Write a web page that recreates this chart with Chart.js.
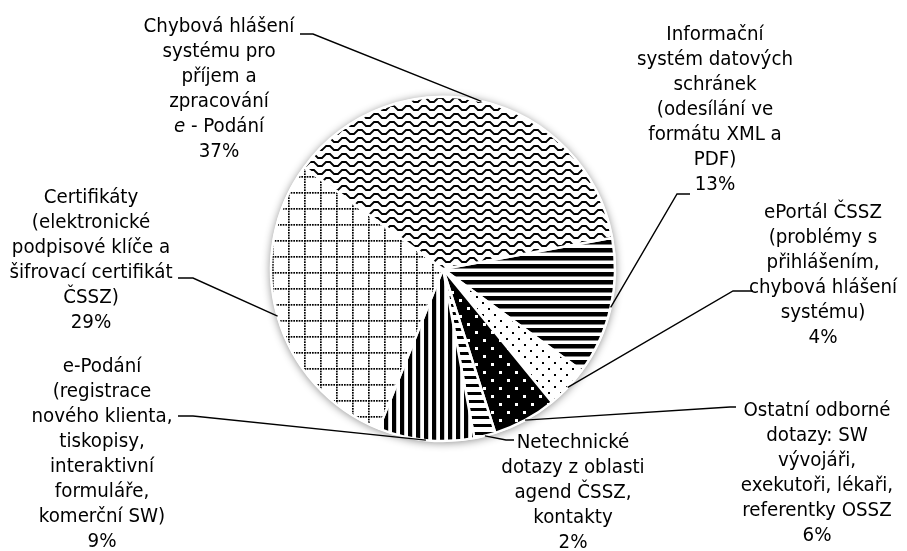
<!DOCTYPE html>
<html>
<head>
<meta charset="utf-8">
<script src="https://cdn.jsdelivr.net/npm/chart.js@4"></script>
<style>
  html, body { margin: 0; padding: 0; background: #fff; }
  canvas { display: block; }
</style>
</head>
<body>
<canvas id="c" width="907" height="551"></canvas>
<script>
// ---- data ----
const categories = [
  'Informační systém datových schránek',
  'ePortál ČSSZ',
  'Ostatní odborné dotazy',
  'Netechnické dotazy',
  'e-Podání',
  'Certifikáty',
  'Chybová hlášení systému'
];
const values = [13, 4, 6, 2, 9, 29, 37];
const labelLines = [
  ['Informační', 'systém datových', 'schránek', '(odesílání ve', 'formátu XML a', 'PDF)'],
  ['ePortál ČSSZ', '(problémy s', 'přihlášením,', 'chybová hlášení', 'systému)'],
  ['Ostatní odborné', 'dotazy: SW', 'vývojáři,', 'exekutoři, lékaři,', 'referentky OSSZ'],
  ['Netechnické', 'dotazy z oblasti', 'agend ČSSZ,', 'kontakty'],
  ['e-Podání', '(registrace', 'nového klienta,', 'tiskopisy,', 'interaktivní', 'formuláře,', 'komerční SW)'],
  ['Certifikáty', '(elektronické', 'podpisové klíče a', 'šifrovací certifikát', 'ČSSZ)'],
  ['Chybová hlášení', 'systému pro', 'příjem a', 'zpracování', '_e_ - Podání']
];

// ---- patterns ----
function tile(w, h, bg, draw) {
  const c = document.createElement('canvas');
  c.width = w; c.height = h;
  const g = c.getContext('2d');
  g.fillStyle = bg; g.fillRect(0, 0, w, h);
  g.fillStyle = '#000'; g.strokeStyle = '#000';
  draw(g);
  return document.getElementById('c').getContext('2d').createPattern(c, 'repeat');
}
const patHStripes = tile(8, 8, '#fff', g => g.fillRect(0, 0, 8, 4.5));
const patDots = tile(12, 12, '#fff', g => { g.fillRect(2, 2, 2, 2); g.fillRect(8, 8, 2, 2); });
const patSquares = tile(16, 16, '#000', g => { g.fillStyle = '#fff'; g.fillRect(3, 3, 3, 3); g.fillRect(11, 11, 3, 3); });
const patThinH = tile(8, 8, '#fff', g => g.fillRect(0, 0, 8, 3));
const patVStripes = tile(8, 8, '#fff', g => g.fillRect(0, 0, 4.2, 8));
const patGrid = tile(16, 16, '#fff', g => {
  const s = 16 / 6;
  for (let k = 0; k < 6; k++) {
    g.fillRect(k * s, 0, 1.7, 1.7);
    g.fillRect(0, k * s, 1.7, 1.7);
  }
});
const patWave = tile(16, 8, '#fff', g => {
  g.lineWidth = 1.8;
  g.beginPath();
  g.moveTo(-2, 6); g.lineTo(2, 6); g.lineTo(6, 2); g.lineTo(10, 2); g.lineTo(14, 6); g.lineTo(18, 6);
  g.stroke();
});
const patterns = [patHStripes, patDots, patSquares, patThinH, patVStripes, patGrid, patWave];

// ---- label layout ----
const FONT = '"DejaVu Sans Condensed", "DejaVu Sans", sans-serif';
const FS = 20.3, LH = 25;
const layout = [
  { cx: 715, base: 40,  attach: [690, 194], elbow: [677, 194] },
  { cx: 823, base: 218, attach: [753, 291], elbow: [733, 291] },
  { cx: 817, base: 416, attach: [736, 407], elbow: [730, 407] },
  { cx: 573, base: 448, attach: [514, 440], elbow: [506, 440] },
  { cx: 102, base: 372, attach: [178, 416], elbow: [193, 416] },
  { cx: 91,  base: 203, attach: [178, 278], elbow: [193, 278] },
  { cx: 219, base: 32,  attach: [300, 34],  elbow: [313, 34] }
];

function drawRichLine(ctx, text, cx, y) {
  // segments wrapped in _..._ are italic
  const parts = text.split('_');
  const segs = parts.map((t, i) => ({ t, it: i % 2 === 1 })).filter(s => s.t.length);
  let total = 0;
  segs.forEach(s => { ctx.font = (s.it ? 'italic ' : '') + FS + 'px ' + FONT; s.w = ctx.measureText(s.t).width; total += s.w; });
  let x = cx - total / 2;
  ctx.textAlign = 'left';
  segs.forEach(s => { ctx.font = (s.it ? 'italic ' : '') + FS + 'px ' + FONT; ctx.fillText(s.t, x, y); x += s.w; });
}

const shadowPlugin = {
  id: 'pieShadow',
  beforeDatasetsDraw(chart) {
    const arc = chart.getDatasetMeta(0).data[0];
    if (!arc) return;
    const { x, y, outerRadius } = arc.getProps(['x', 'y', 'outerRadius'], true);
    const ctx = chart.ctx;
    ctx.save();
    ctx.shadowColor = 'rgba(0,0,0,0.45)';
    ctx.shadowBlur = 8;
    ctx.shadowOffsetX = 0;
    ctx.shadowOffsetY = 1;
    ctx.fillStyle = '#fff';
    ctx.beginPath();
    ctx.arc(x, y, outerRadius + 1, 0, Math.PI * 2);
    ctx.fill();
    ctx.restore();
  }
};

const labelPlugin = {
  id: 'pieLabels',
  afterDraw(chart) {
    const ctx = chart.ctx;
    const meta = chart.getDatasetMeta(0);
    ctx.save();
    ctx.fillStyle = '#000';
    ctx.strokeStyle = '#000';
    ctx.lineWidth = 1.4;
    ctx.textBaseline = 'alphabetic';
    meta.data.forEach((arc, i) => {
      const p = arc.getProps(['x', 'y', 'startAngle', 'endAngle', 'outerRadius'], true);
      const mid = (p.startAngle + p.endAngle) / 2;
      const px = p.x + Math.cos(mid) * p.outerRadius;
      const py = p.y + Math.sin(mid) * p.outerRadius;
      const L = layout[i];
      ctx.beginPath();
      ctx.moveTo(L.attach[0], L.attach[1]);
      ctx.lineTo(L.elbow[0], L.elbow[1]);
      ctx.lineTo(px, py);
      ctx.stroke();
      const lines = labelLines[i].concat([values[i] + '%']);
      lines.forEach((t, k) => drawRichLine(ctx, t, L.cx, L.base + k * LH));
    });
    ctx.restore();
  }
};

new Chart(document.getElementById('c'), {
  type: 'pie',
  data: {
    labels: categories,
    datasets: [{
      data: values,
      backgroundColor: patterns,
      borderColor: '#fff',
      borderWidth: 2.5
    }]
  },
  options: {
    responsive: false,
    animation: false,
    rotation: 79.5,
    radius: 172,
    layout: { padding: { left: 0, right: 21, top: 0, bottom: 13 } },
    plugins: { legend: { display: false }, tooltip: { enabled: false } }
  },
  plugins: [shadowPlugin, labelPlugin]
});
</script>
</body>
</html>
